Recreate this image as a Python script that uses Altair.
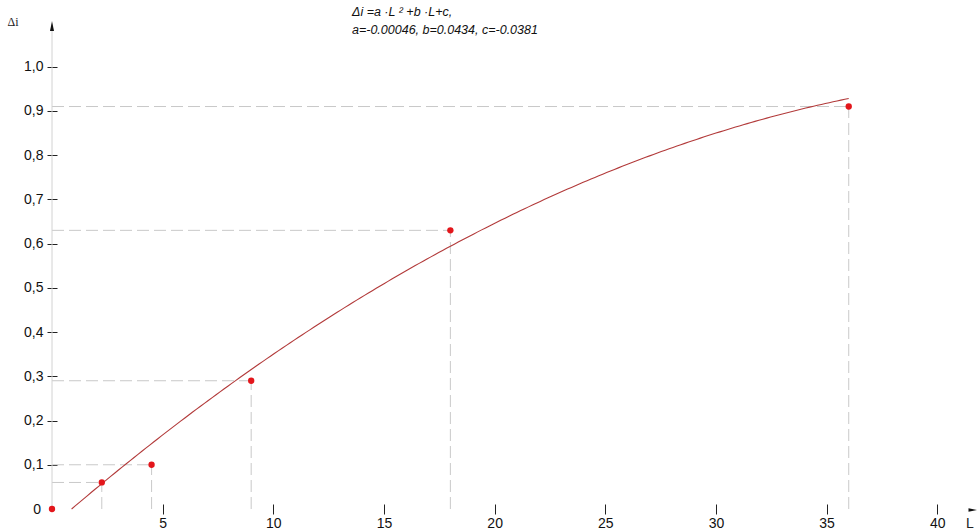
import altair as alt
import numpy as np
import pandas as pd

# Measured points: run length L and head-loss increment Δi
L_pts = [0, 2.25, 4.5, 9, 18, 36]
di_pts = [0, 0.06, 0.10, 0.29, 0.63, 0.91]

# Fitted quadratic Δi = a·L² + b·L + c
coef_a, coef_b, coef_c = -0.00046, 0.0434, -0.0381
fit_L_start, fit_L_end = 0.886, 36.0

x_ticks = [5, 10, 15, 20, 25, 30, 35, 40]
y_ticks = [0.1, 0.2, 0.3, 0.4, 0.5, 0.6, 0.7, 0.8, 0.9, 1.0]

formula_line1 = "Δi =a ·L ² +b ·L+c,"
formula_line2 = "a=-0.00046, b=0.0434, c=-0.0381"

W, H = 920, 479
X_DOM = [0, 41.57]
Y_DOM = [0, 1.083]

pts = pd.DataFrame({"L": L_pts, "di": di_pts})
guides = pts[pts["L"] > 0].assign(zero=0.0)

fit_L = np.linspace(fit_L_start, fit_L_end, 200)
fit = pd.DataFrame({"L": fit_L, "di": coef_a * fit_L**2 + coef_b * fit_L + coef_c})

FONT = "Liberation Sans"

x_axis = alt.Axis(values=x_ticks, domain=False, grid=False, tickSize=10, offset=-5,
                  tickColor="#222222", tickWidth=1, labelFont=FONT, labelFontSize=14,
                  labelColor="#111111", labelPadding=2, title=None)
y_axis = alt.Axis(values=y_ticks, domain=False, grid=False, tickSize=10, offset=-5,
                  tickColor="#222222", tickWidth=1, labelFont=FONT, labelFontSize=14,
                  labelColor="#111111", labelPadding=4, title=None,
                  labelExpr="replace(format(datum.value, '.1f'), '.', ',')")

xs = alt.Scale(domain=X_DOM, nice=False, zero=False)
ys = alt.Scale(domain=Y_DOM, nice=False, zero=False)


def X(field):
    return alt.X(field, type="quantitative", scale=xs, axis=x_axis)


def Y(field):
    return alt.Y(field, type="quantitative", scale=ys, axis=y_axis)


def label(text, x, y, **style):
    return alt.Chart(pd.DataFrame({"t": [text]})).mark_text(**style).encode(
        text="t:N", x=alt.value(x), y=alt.value(y))


dash = [12, 5]
guide_color = "#c9c9c9"

h_guides = alt.Chart(guides).mark_rule(color=guide_color, strokeDash=dash, strokeWidth=1).encode(
    x=X("zero"), x2="L", y=Y("di"))
v_guides = alt.Chart(guides).mark_rule(color=guide_color, strokeDash=dash, strokeWidth=1).encode(
    x=X("L"), y=Y("zero"), y2="di")

y_line = alt.Chart(pd.DataFrame({"a": [0]})).mark_rule(color="#d2d2d2", strokeWidth=1).encode(
    x=alt.value(0), y=alt.value(-4), y2=alt.value(481))

curve = alt.Chart(fit).mark_line(color="#b23a3a", strokeWidth=1.1).encode(
    x=X("L"), y=Y("di"), order="L:Q")

dots = alt.Chart(pts).mark_point(filled=True, color="#e3161b", size=40, opacity=1).encode(
    x=X("L"), y=Y("di"))

zero_label = label("0", -11, H + 1, font=FONT, fontSize=14, color="#111111",
                   align="right", baseline="middle")

up_arrow = alt.Chart(pd.DataFrame({"a": [0]})).mark_point(
    shape="M -0.4 1 L 0 -1 L 0.4 1 Z", filled=True, color="#111111", size=100, opacity=1).encode(
    x=alt.value(0), y=alt.value(-4))

right_arrow = alt.Chart(pd.DataFrame({"a": [0]})).mark_point(
    shape="M -1 -0.4 L 1 0 L -1 0.4 Z", filled=True, color="#111111", size=81, opacity=1).encode(
    x=alt.value(W + 1), y=alt.value(H + 1))

di_label = label("Δi", -39, -8, font="Liberation Serif", fontSize=12, color="#222222",
                 align="center", baseline="middle")
l_label = label("L", W - 2, H + 15, font=FONT, fontSize=14, color="#222222",
                align="center", baseline="middle")

ftext = dict(font=FONT, fontSize=12.5, fontStyle="italic", color="#111111",
             align="left", baseline="middle")
formula1 = label(formula_line1, 300, -18, **ftext)
formula2 = label(formula_line2, 300, 0, **ftext)

chart = alt.layer(
    h_guides, v_guides, y_line, curve, dots, zero_label, up_arrow, right_arrow,
    di_label, l_label, formula1, formula2
).properties(
    width=W, height=H,
    autosize=alt.AutoSizeParams(type="none"),
    padding={"left": 52, "top": 30, "right": 5, "bottom": 21},
    background="white",
).configure_view(stroke=None)

chart.save("out.html", embed_options={"renderer": "svg", "actions": False})
